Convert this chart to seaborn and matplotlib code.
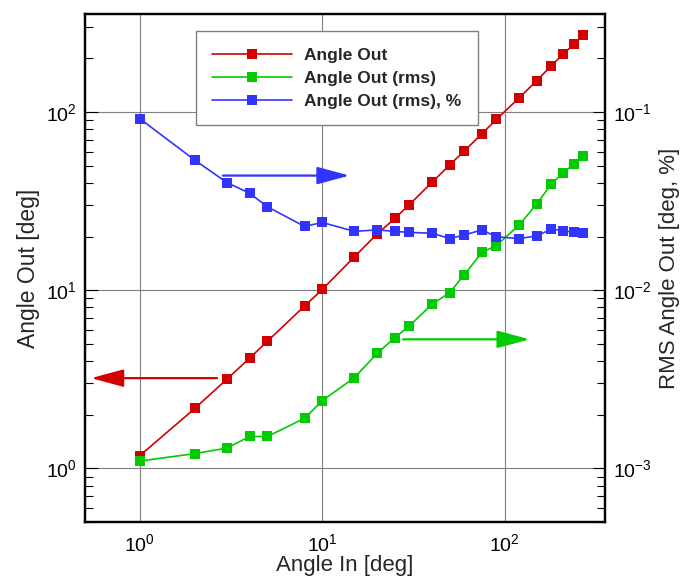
import numpy as np
import pandas as pd
import matplotlib
matplotlib.use("Agg")
import matplotlib.pyplot as plt
import seaborn as sns

angle_in = [1, 2, 3, 4, 5, 8, 10, 15, 20, 25, 30, 40, 50, 60, 75, 90,
            120, 150, 180, 210, 240, 270]
angle_out = [1.18, 2.17, 3.17, 4.16, 5.17, 8.16, 10.1, 15.4, 20.7, 25.3, 30.2,
             40.4, 50.5, 60.5, 75.4, 90.9, 120, 150, 182, 212, 241, 271]
angle_out_rms = [1.10e-3, 1.21e-3, 1.30e-3, 1.51e-3, 1.51e-3, 1.91e-3, 2.40e-3,
                 3.23e-3, 4.42e-3, 5.42e-3, 6.3e-3, 8.34e-3, 9.7e-3, 12.2e-3,
                 16.3e-3, 17.8e-3, 23.2e-3, 30.5e-3, 39.4e-3, 45.7e-3,
                 51.2e-3, 56.5e-3]
angle_out_rms_pct = [91.7e-3, 53.7e-3, 40.2e-3, 35.0e-3, 29.4e-3, 22.8e-3,
                     24.0e-3, 21.4e-3, 21.8e-3, 21.4e-3, 21.1e-3, 20.9e-3,
                     19.5e-3, 20.4e-3, 21.8e-3, 19.95e-3, 19.5e-3, 20.2e-3,
                     22.0e-3, 21.6e-3, 21.1e-3, 20.9e-3]
series_labels = ["Angle Out", "Angle Out (rms)", "Angle Out (rms), %"]

sns.set_style("white")
plt.rcParams["font.family"] = ["Liberation Sans", "DejaVu Sans"]
plt.rcParams["mathtext.fontset"] = "custom"
plt.rcParams["mathtext.rm"] = "Liberation Sans"
plt.rcParams["mathtext.it"] = "Liberation Sans:italic"
plt.rcParams["mathtext.bf"] = "Liberation Sans:bold"

RED, GREEN, BLUE = "#D40000", "#00CC00", "#3333FF"

fig = plt.figure(figsize=(6.84, 5.77), dpi=100)
ax = fig.add_axes([0.1243, 0.0953, 0.7602, 0.8804])
ax2 = ax.twinx()

df = pd.DataFrame({"x": angle_in, "out": angle_out, "rms": angle_out_rms,
                   "pct": angle_out_rms_pct})

kw = dict(marker="s", markersize=7.5, markeredgewidth=0, linewidth=1.2, sort=False)
sns.lineplot(data=df, x="x", y="out", color=RED, ax=ax, label=series_labels[0], **kw)
sns.lineplot(data=df, x="x", y="rms", color=GREEN, ax=ax2, label=series_labels[1], **kw)
sns.lineplot(data=df, x="x", y="pct", color=BLUE, ax=ax2, label=series_labels[2], **kw)

for a in (ax, ax2):
    a.set_xscale("log")
    a.set_yscale("log")
ax.set_xlim(0.5, 355)
ax.set_ylim(0.5, 355)
ax2.set_ylim(0.5e-3, 0.355)

ax.grid(True, which="major", color="#808080", linewidth=0.8)
ax2.grid(False)
ax.set_axisbelow(True)

for s in list(ax.spines.values()) + list(ax2.spines.values()):
    s.set_linewidth(1.6)
    s.set_color("black")

ax.tick_params(axis="both", which="both", direction="in", labelsize=14,
               top=False, right=False, colors="black")
ax.tick_params(which="major", length=9, width=0.8)
ax.tick_params(which="minor", length=6, width=0.8)
ax2.tick_params(axis="y", which="both", direction="in", labelsize=14,
                left=False, right=True, colors="black")
ax2.tick_params(which="major", length=9, width=0.8)
ax2.tick_params(which="minor", length=6, width=0.8)
ax2.yaxis.set_minor_formatter(matplotlib.ticker.NullFormatter())
ax.yaxis.set_minor_formatter(matplotlib.ticker.NullFormatter())
ax.xaxis.set_minor_formatter(matplotlib.ticker.NullFormatter())
ax.tick_params(axis="x", pad=8)
ax.tick_params(axis="y", pad=6)
ax2.tick_params(axis="y", pad=6)

ax.set_xlabel("Angle In [deg]", fontsize=16, labelpad=0)
ax.set_ylabel("Angle Out [deg]", fontsize=16.5, labelpad=4)
ax2.set_ylabel("RMS Angle Out [deg, %]", fontsize=16, labelpad=5)

# direction arrows
arrow_kw = dict(arrowstyle="-|>,head_length=1.0,head_width=0.27", mutation_scale=20,
                linewidth=1.6, shrinkA=0, shrinkB=0)
ax.annotate("", xy=(0.54, 3.21), xytext=(2.65, 3.21),
            arrowprops=dict(color=RED, **arrow_kw))
ax2.annotate("", xy=(14.1, 0.044), xytext=(2.85, 0.044),
             arrowprops=dict(color=BLUE, **arrow_kw))
ax2.annotate("", xy=(137, 5.3e-3), xytext=(27.7, 5.3e-3),
             arrowprops=dict(color=GREEN, **arrow_kw))

h1, l1 = ax.get_legend_handles_labels()
h2, l2 = ax2.get_legend_handles_labels()
if ax.get_legend():
    ax.get_legend().remove()
if ax2.get_legend():
    ax2.get_legend().remove()
leg = ax2.legend(h1 + h2, l1 + l2, loc="upper left",
                 bbox_to_anchor=(0.2125, 0.966), frameon=True, fancybox=False,
                 edgecolor="#808080", framealpha=1, prop={"weight": "bold", "size": 12.5},
                 handlelength=4.6, handletextpad=0.7, labelspacing=0.45,
                 borderpad=0.95, borderaxespad=0, markerscale=0.9)
leg.get_frame().set_linewidth(1.0)

fig.savefig("out.png", dpi=100)
